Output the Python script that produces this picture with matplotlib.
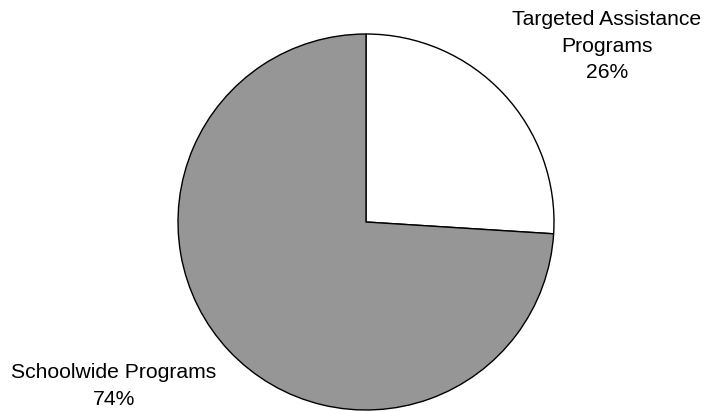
import matplotlib
matplotlib.use("Agg")
import matplotlib.pyplot as plt

labels = ["Targeted Assistance\nPrograms", "Schoolwide Programs"]
shares = [26, 74]
colors = ["#ffffff", "#969696"]

plt.rcParams['font.family'] = ['Liberation Sans', 'DejaVu Sans']

fig = plt.figure(figsize=(7.07, 4.12), dpi=100)
ax = fig.add_axes([0, 0, 1, 1])

# pie laid out in pixel coordinates (y up)
ax.pie(shares, colors=colors, startangle=90, counterclock=False,
       center=(366, 412 - 222), radius=188,
       wedgeprops=dict(edgecolor="black", linewidth=1.0))

ax.text(607, 412 - 46, f"{labels[0]}\n{shares[0]}%", ha="center", va="center",
        fontsize=15.2, linespacing=1.48, color="black")
ax.text(114, 412 - 386, f"{labels[1]}\n{shares[1]}%", ha="center", va="center",
        fontsize=15.2, linespacing=1.48, color="black")

ax.set_xlim(0, 707)
ax.set_ylim(0, 412)
ax.set_aspect("equal")
ax.axis("off")

fig.savefig("out.png", dpi=100)
